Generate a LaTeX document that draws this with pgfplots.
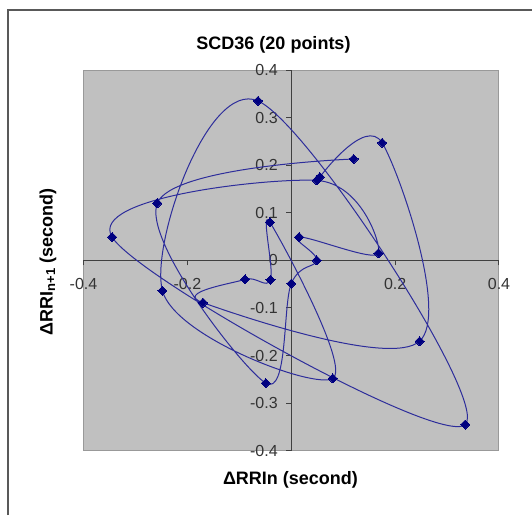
\documentclass[border=0pt]{standalone}
\usepackage{fontspec}
\setmainfont{Liberation Sans}
\usepackage{pgfplots}
\pgfplotsset{compat=1.18}
\definecolor{plotbg}{HTML}{C0C0C0}
\definecolor{navyline}{RGB}{45,45,155}
\definecolor{navymark}{HTML}{000080}
\begin{document}
\begin{tikzpicture}[x=1pt,y=1pt]
\useasboundingbox (0,0) rectangle (532,515);
\draw[line width=1.5pt, black!65] (8,0) -- (8,505) -- (532,505);
\begin{axis}[
  at={(83.5pt,64.3pt)}, anchor=south west,
  scale only axis, width=415.5pt, height=380.7pt,
  xmin=-0.4, xmax=0.4, ymin=-0.4, ymax=0.4,
  axis lines=middle,
  axis line style={line width=1.2pt, black!75, -},
  axis background/.style={fill=plotbg, draw=black!40, line width=1pt},
  xtick={-0.4,-0.2,0.2,0.4},
  ytick={-0.4,-0.3,-0.2,-0.1,0,0.1,0.2,0.3,0.4},
  hide obscured y ticks=false,
  hide obscured x ticks=false,
  tick align=outside, major tick length=5pt,
  tick style={line width=1pt, black!75},
  xticklabel style={font=\fontsize{16}{18}\selectfont, text=black!80, yshift=-9pt},
  yticklabel style={font=\fontsize{16}{18}\selectfont, text=black!80, xshift=-5pt},
  /pgf/number format/assume math mode=true,
  clip=false,
]
\addplot[navyline, line width=1pt, smooth, tension=0.6, mark=square*, mark size=3.2pt,
  mark options={navymark, fill=navymark, rotate=45, solid, line width=0pt}] coordinates {
(0.055, 0.175)
(0.175, 0.247)
(0.247, -0.170)
(-0.170, -0.089)
(-0.089, -0.040)
(-0.040, -0.041)
(-0.041, 0.080)
(0.080, -0.248)
(-0.248, -0.064)
(-0.064, 0.335)
(0.335, -0.345)
(-0.345, 0.049)
(0.049, 0.168)
(0.168, 0.015)
(0.015, 0.049)
(0.049, 0.000)
(0.000, -0.049)
(-0.049, -0.258)
(-0.258, 0.120)
(0.120, 0.213)
};
\end{axis}
\node[font=\fontsize{18}{20}\selectfont\bfseries] at (273.5,470.5) {SCD36 (20 points)};
\node[font=\fontsize{18}{20}\selectfont\bfseries] at (290.5,35) {ΔRRIn (second)};
\node[font=\fontsize{18}{20}\selectfont\bfseries, rotate=90] at (48,253) {ΔRRI\raisebox{-0.25ex}{\fontsize{13}{15}\selectfont n+1} (second)};
\end{tikzpicture}
\end{document}
